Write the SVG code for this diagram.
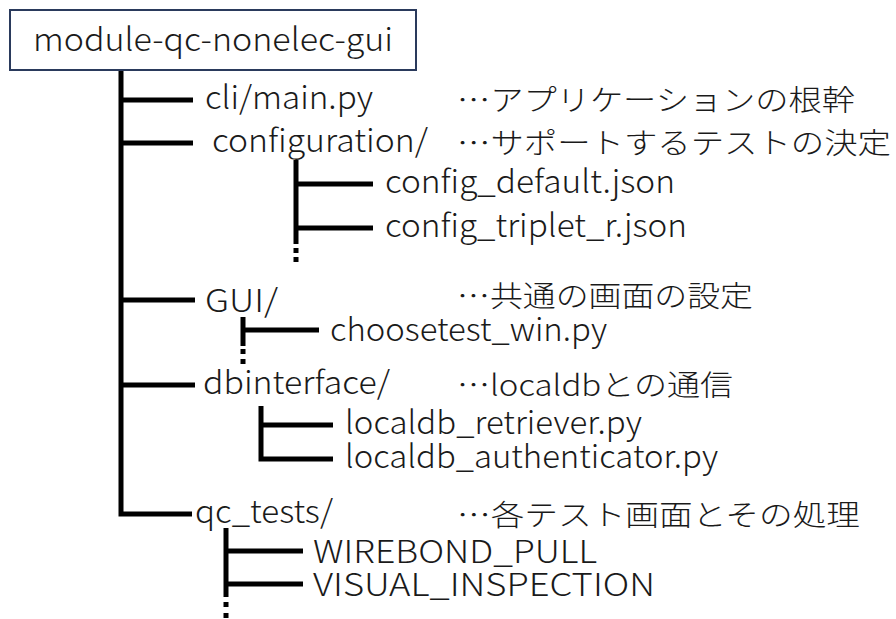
<svg xmlns="http://www.w3.org/2000/svg" width="896" height="619" viewBox="0 0 896 619">
<style>
.t{font-family:"Noto Sans CJK JP","Noto Sans",sans-serif;font-size:32px;font-weight:300;fill:#1a1a1a}
.j{font-family:"Noto Sans CJK JP",sans-serif;font-size:29px;font-weight:300;fill:#1a1a1a}
.e{font-feature-settings:"fwid"}
.ln{stroke:#000;stroke-width:5;fill:none;stroke-linejoin:miter;stroke-linecap:butt}
.dot{fill:#000}
</style>
<rect width="896" height="619" fill="#fff"/>
<g id="connectors">
<path class="ln" d="M121,70 V514 H192"/>
<path class="ln" d="M121,100 H193"/>
<path class="ln" d="M121,143 H193"/>
<path class="ln" d="M121,300 H195"/>
<path class="ln" d="M121,385 H195"/>
<path class="ln" d="M296,160 V244"/>
<path class="ln" d="M296,184 H373"/>
<path class="ln" d="M296,228 H373"/>
<rect class="dot" x="293.5" y="248" width="5" height="5"/>
<rect class="dot" x="293.5" y="257" width="5" height="5"/>
<path class="ln" d="M243,317 V346"/>
<path class="ln" d="M243,330 H319"/>
<rect class="dot" x="240.5" y="349" width="5" height="5"/>
<rect class="dot" x="240.5" y="359" width="5" height="5"/>
<path class="ln" d="M261,406 V459 H333"/>
<path class="ln" d="M261,425 H333"/>
<path class="ln" d="M226,528 V597"/>
<path class="ln" d="M226,551 H303"/>
<path class="ln" d="M226,584 H303"/>
<rect class="dot" x="223.5" y="602" width="5" height="5"/>
<rect class="dot" x="223.5" y="613" width="5" height="5"/>
</g>
<g id="root">
<rect x="10" y="10" width="406" height="60" fill="#fff" stroke="#2a3a5c" stroke-width="2"/>
<text class="t" x="33" y="51" textLength="360" lengthAdjust="spacingAndGlyphs">module-qc-nonelec-gui</text>
</g>
<g id="cli">
<text class="t" x="205" y="109" textLength="168" lengthAdjust="spacingAndGlyphs">cli/main.py</text>
<text class="j" xml:lang="ja" x="457" y="111" textLength="398" lengthAdjust="spacingAndGlyphs"><tspan class="e">…</tspan>アプリケーションの根幹</text>
</g>
<g id="configuration">
<text class="t" x="212" y="152" textLength="216" lengthAdjust="spacingAndGlyphs">configuration/</text>
<text class="j" xml:lang="ja" x="457" y="154" textLength="434" lengthAdjust="spacingAndGlyphs"><tspan class="e">…</tspan>サポートするテストの決定</text>
</g>
<g id="config_default">
<text class="t" x="385" y="193" textLength="290" lengthAdjust="spacingAndGlyphs">config_default.json</text>
</g>
<g id="config_triplet">
<text class="t" x="385" y="237" textLength="302" lengthAdjust="spacingAndGlyphs">config_triplet_r.json</text>
</g>
<g id="gui">
<text class="t" x="205" y="312" textLength="73" lengthAdjust="spacingAndGlyphs">GUI/</text>
<text class="j" xml:lang="ja" x="457" y="307" textLength="296" lengthAdjust="spacingAndGlyphs"><tspan class="e">…</tspan>共通の画面の設定</text>
</g>
<g id="choosetest">
<text class="t" x="330" y="341" textLength="277" lengthAdjust="spacingAndGlyphs">choosetest_win.py</text>
</g>
<g id="dbinterface">
<text class="t" x="203" y="394" textLength="187" lengthAdjust="spacingAndGlyphs">dbinterface/</text>
<text class="j" xml:lang="ja" x="457" y="396" textLength="276" lengthAdjust="spacingAndGlyphs"><tspan class="e">…</tspan>localdbとの通信</text>
</g>
<g id="retriever">
<text class="t" x="345" y="434" textLength="297" lengthAdjust="spacingAndGlyphs">localdb_retriever.py</text>
</g>
<g id="authenticator">
<text class="t" x="345" y="468" textLength="373" lengthAdjust="spacingAndGlyphs">localdb_authenticator.py</text>
</g>
<g id="qc_tests">
<text class="t" x="195" y="523" textLength="138" lengthAdjust="spacingAndGlyphs">qc_tests/</text>
<text class="j" xml:lang="ja" x="457" y="526" textLength="403" lengthAdjust="spacingAndGlyphs"><tspan class="e">…</tspan>各テスト画面とその処理</text>
</g>
<g id="wirebond">
<text class="t" x="313" y="563" textLength="284" lengthAdjust="spacingAndGlyphs">WIREBOND_PULL</text>
</g>
<g id="visual">
<text class="t" x="313" y="596" textLength="342" lengthAdjust="spacingAndGlyphs">VISUAL_INSPECTION</text>
</g>
</svg>
